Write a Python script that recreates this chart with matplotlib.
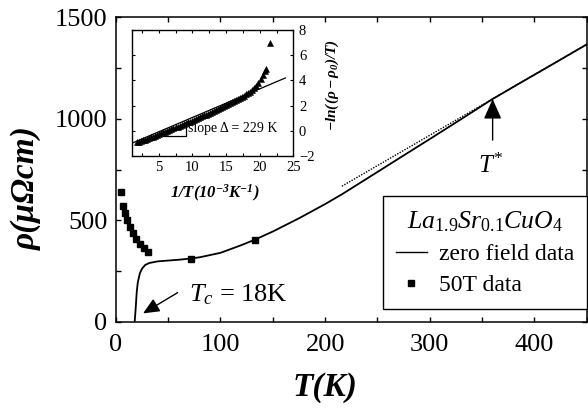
import numpy as np
import matplotlib
matplotlib.use("Agg")
import matplotlib.pyplot as plt
from matplotlib.lines import Line2D

plt.rcParams['font.family'] = ['Liberation Serif', 'DejaVu Serif']
plt.rcParams['mathtext.fontset'] = 'custom'
plt.rcParams['mathtext.rm'] = 'Liberation Serif'
plt.rcParams['mathtext.it'] = 'Liberation Serif:italic'
plt.rcParams['mathtext.bf'] = 'Liberation Serif:italic:bold'

# zero field resistivity, rho (micro-ohm cm) vs T (K)
T_zero = [18, 19, 20, 21, 23, 25, 28, 32, 40, 50, 60, 70, 80, 100, 120, 133,
          150, 175, 200, 216, 250, 270, 300, 330, 360, 385, 420, 450]
rho_zero = [0, 70, 150, 195, 240, 262, 280, 290, 298, 302, 306, 311, 318, 340,
            378, 405, 445, 510, 580, 628, 738, 803, 900, 998, 1097, 1172, 1276, 1366]

# high temperature linear extrapolation
T_lin = [216, 450]
rho_lin = [668, 1366]

# 50 T pulsed field data
T_50T = [5, 6.7, 8.6, 10.5, 13.3, 16.2, 19, 22.9, 26.7, 30.5, 72, 133]
rho_50T = [640, 571, 536, 502, 467, 438, 408, 384, 364, 344, 312, 405]

# inset: -ln((rho - rho0)/T) vs 1/T (1e-3 / K)
inv_T = [1.8, 2.1, 2.4, 2.7, 3.0, 3.3, 3.6, 3.9, 4.2, 4.5, 4.8, 5.1, 5.4,
         5.7, 6.0, 6.3, 6.6, 6.9, 7.2, 7.5, 7.8, 8.1, 8.4, 8.7, 9.0, 9.3,
         9.6, 9.9, 10.2, 10.5, 10.8, 11.1, 11.4, 11.7, 12.0, 12.3, 12.6,
         12.9, 13.2, 13.5, 13.8, 14.1, 14.4, 14.7, 15.0, 15.3, 15.6, 15.9,
         16.2, 16.5, 16.8, 17.1, 17.4, 17.7, 18.0, 18.3, 18.6, 18.9, 19.2,
         19.5, 19.8, 20.2, 20.5, 20.8, 21.0, 21.5]
neg_log = [-0.95, -0.90, -0.84, -0.78, -0.72, -0.66, -0.60, -0.54, -0.48,
           -0.41, -0.35, -0.28, -0.22, -0.15, -0.08, -0.02, 0.05, 0.12, 0.18,
           0.25, 0.32, 0.38, 0.45, 0.52, 0.58, 0.65, 0.72, 0.79, 0.86, 0.93,
           1.00, 1.07, 1.14, 1.21, 1.28, 1.35, 1.42, 1.50, 1.57, 1.64, 1.72,
           1.79, 1.87, 1.95, 2.03, 2.11, 2.19, 2.27, 2.35, 2.44, 2.52, 2.61,
           2.70, 2.79, 2.88, 2.98, 3.10, 3.22, 3.36, 3.55, 3.80, 4.10, 4.40,
           4.75, 4.95, 7.0]
fit_x = [1.0, 23.8]
fit_y = [-1.02, 4.2]
slope_tri_x = [5.7, 9.1, 9.1]
slope_tri_y = [-0.45, -0.45, 0.46]

fig = plt.figure(figsize=(5.88, 4.17), dpi=100)
ax = fig.add_axes([0.197, 0.228, 0.801, 0.731])

ax.plot(T_zero, rho_zero, 'k-', lw=1.3)
ax.plot(T_lin, rho_lin, color='k', lw=1.0, ls=(0, (1, 1)))
ax.plot(T_50T, rho_50T, 'ks', ms=4.5, clip_on=False)

ax.set_xlim(0, 450)
ax.set_ylim(0, 1500)
ax.set_xticks([0, 100, 200, 300, 400])
ax.set_xticks(np.arange(0, 451, 50), minor=True)
ax.set_yticks([0, 500, 1000, 1500])
ax.set_yticks(np.arange(0, 1501, 250), minor=True)
ax.tick_params(which='both', direction='in', top=True, right=True,
               length=3.5, width=1.0, labelsize=19, pad=6)
ax.tick_params(axis='x', pad=9)
for s in ax.spines.values():
    s.set_linewidth(1.1)

ax.set_xlabel('T(K)', fontsize=24, fontweight='bold', fontstyle='italic')
ax.xaxis.set_label_coords(0.444, -0.165)
ax.set_ylabel('ρ(μΩcm)', fontsize=24, fontweight='bold', fontstyle='italic',
              va='center')
ax.yaxis.set_label_coords(-0.19, 0.44)

# annotations
ax.annotate('', xy=(26, 42), xytext=(59, 144),
            arrowprops=dict(arrowstyle='-|>,head_length=0.9,head_width=0.4',
                            mutation_scale=11, color='k', lw=1.0,
                            shrinkA=0, shrinkB=0))
ax.text(70, 133, r'$T_c$ = 18K', fontsize=19, ha='left', va='center')

ax.annotate('', xy=(360, 1097), xytext=(360, 895),
            arrowprops=dict(arrowstyle='-|>,head_length=0.95,head_width=0.42',
                            mutation_scale=13, color='k', lw=1.0,
                            shrinkA=0, shrinkB=0))
ax.text(358, 767, r'$T^{*}$', fontsize=18, ha='center', va='center')

handles = [Line2D([], [], color='k', lw=1.0),
           Line2D([], [], color='k', ls='', marker='s', ms=4)]
leg = ax.legend(handles, ['zero field data', '50T data'],
                title=r'$La_{\mathit{1.9}}Sr_{\mathit{0.1}}CuO_4$',
                title_fontsize=18.5, fontsize=17, loc='lower right',
                bbox_to_anchor=(1.0, 0.043), borderaxespad=0,
                fancybox=False, framealpha=1, edgecolor='k',
                handlelength=1.3, handletextpad=0.5, borderpad=0.55,
                labelspacing=0.4)
leg.get_frame().set_linewidth(1.0)

# inset: activation plot
axi = fig.add_axes([0.224, 0.627, 0.275, 0.300])
axi.plot(inv_T, neg_log, 'k^', ms=5, mew=0.4)
axi.plot(fit_x, fit_y, 'k-', lw=0.9)
axi.plot(slope_tri_x, slope_tri_y, 'k-', lw=0.9)
axi.text(9.3, 0.2, 'slope Δ = 229 K', fontsize=10, ha='left', va='center')
axi.set_xlim(1, 25)
axi.set_ylim(-2, 8)
axi.set_xticks([5, 10, 15, 20, 25])
axi.set_xticks(np.arange(2.5, 25, 2.5), minor=True)
axi.set_yticks([-2, 0, 2, 4, 6, 8])
axi.yaxis.tick_right()
axi.tick_params(which='both', direction='in', top=True, left=True, right=True,
                length=2.5, width=0.8, labelsize=10.5, pad=4)
for s in axi.spines.values():
    s.set_linewidth(1.0)
axi.set_xlabel(r'$\mathbf{1/T(10^{-3}K^{-1})}$', fontsize=12)
axi.xaxis.set_label_coords(0.515, -0.22)
axi.yaxis.set_label_position('right')
axi.set_ylabel(r'$\mathbf{-ln((\rho-\rho_0)/T)}$', fontsize=11, va='center')
axi.yaxis.set_label_coords(1.243, 0.566)

fig.savefig('out.png', dpi=100)
